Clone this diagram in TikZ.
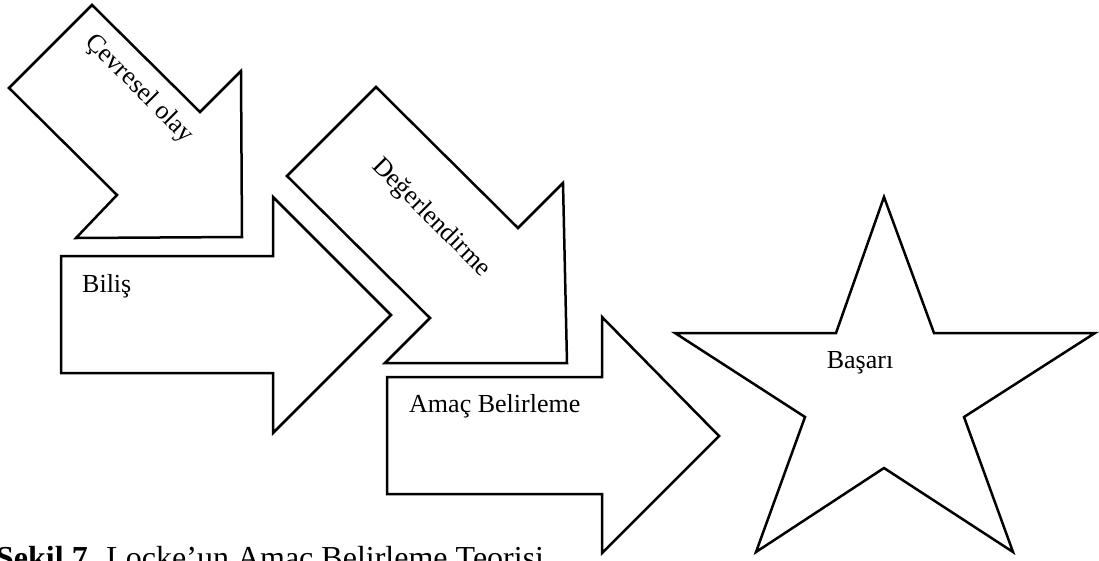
\documentclass[tikz,border=0pt]{standalone}
\usepackage{fontspec}
\setmainfont{Liberation Serif}
\begin{document}
\begin{tikzpicture}[x=1pt,y=-1pt,
  shapeline/.style={draw=black,line width=2.5pt,line join=miter,fill=white},
  lbl/.style={inner sep=0pt,font=\fontsize{26}{30}\selectfont},
  captext/.style={inner sep=0pt,font=\fontsize{32}{36}\selectfont}]
\useasboundingbox (0,0) rectangle (1099,560);
\clip (0,0) rectangle (1099,560);
% Arrow: Cevresel olay
\draw[shapeline] (92,5) -- (200,112) -- (241,71) -- (242,237) -- (76,238) -- (117,195) -- (9,88) -- cycle;
\node[lbl,rotate=-45] (cevre) at (139,89) {Çevresel olay};
% Arrow: Bilis
\draw[shapeline] (61,256) -- (273,256) -- (273,197) -- (391,315) -- (273,433) -- (273,373) -- (61,373) -- cycle;
\node[lbl,anchor=base west] (bilis) at (82,292) {Biliş};
% Arrow: Degerlendirme
\draw[shapeline] (376,87) -- (518,228) -- (563,183) -- (567,363) -- (385,363) -- (430,318) -- (287,176) -- cycle;
\node[lbl,rotate=-45] (deger) at (431,218) {Değerlendirme};
% Arrow: Amac Belirleme
\draw[shapeline] (387,377) -- (602,377) -- (602,317) -- (719,436) -- (602,553) -- (602,494) -- (387,494) -- cycle;
\node[lbl,anchor=base west] (amac) at (409,412) {Amaç Belirleme};
% Star
\draw[shapeline] (884,197) -- (934,333) -- (1095,333) -- (964,417) -- (1013,552) -- (884,468) -- (756,552) -- (805,417) -- (675,333) -- (836,333) -- cycle;
\node[lbl,anchor=base] (basari) at (860,368) {Başarı};
% Caption (cut off at the bottom edge)
\node[captext,anchor=base west] (caption) at (-4,568) {\textbf{Şekil 7.} Locke'un Amaç Belirleme Teorisi};
\end{tikzpicture}
\end{document}
